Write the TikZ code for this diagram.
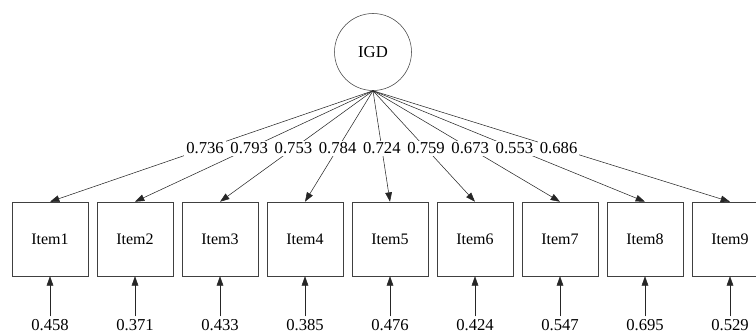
\documentclass[tikz,border=0pt]{standalone}
\usepackage{fontspec}
\setmainfont{Liberation Serif}
\usepackage{tikz}
\usetikzlibrary{arrows.meta, positioning, shapes.geometric}
\tikzset{
    latent/.style={
        circle,
        draw=black!75,
        thin,
        minimum size=57.75pt,
        inner sep=0pt,
        fill=white,
        font=\rmfamily\fontsize{12.5}{14}\selectfont
    },
    item/.style={
        rectangle,
        draw=black!75,
        thin,
        minimum width=57pt,
        minimum height=55.5pt,
        fill=white,
        font=\rmfamily\fontsize{12}{14}\selectfont
    },
    loading/.style={
        draw=black!85,
        thin,
        -{Triangle[length=7pt,width=5pt]}
    },
    resid/.style={
        font=\rmfamily\fontsize{12.5}{14}\selectfont,
        inner sep=2pt
    },
    coef/.style={
        font=\rmfamily\fontsize{12.5}{14}\selectfont,
        fill=white,
        inner sep=1.5pt
    }
}

\begin{document}
\begin{tikzpicture}[x=0.75pt, y=-0.75pt]

\useasboundingbox (0,0) rectangle (756,334);

\node[latent] (igd) at (373,52) {IGD};

\foreach \i/\lam/\res in {1/0.736/0.458, 2/0.793/0.371, 3/0.753/0.433,
    4/0.784/0.385, 5/0.724/0.476, 6/0.759/0.424, 7/0.673/0.547,
    8/0.553/0.695, 9/0.686/0.529} {
  \node[item] (item\i) at ({50+85*(\i-1)},239) {Item\i};
  \node[resid] (r\i) at ({50+85*(\i-1)},325) {\res};
  \draw[loading] (igd.south) -- node[coef, pos=0.52] {\lam} (item\i.north);
  \draw[loading] (r\i) -- (item\i);
}

\end{tikzpicture}
\end{document}
